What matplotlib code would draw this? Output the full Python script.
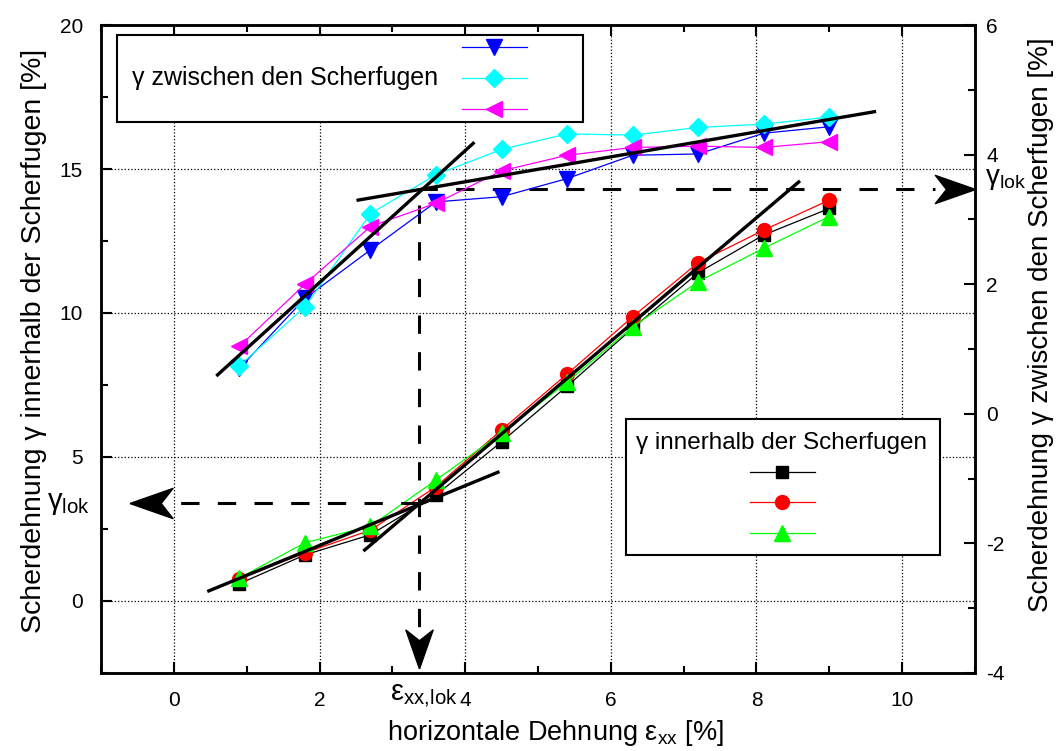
import numpy as np
import matplotlib
matplotlib.use("Agg")
import matplotlib.pyplot as plt
from matplotlib.lines import Line2D
from matplotlib.patches import Rectangle
from matplotlib.ticker import MultipleLocator

plt.rcParams['font.family'] = ['Liberation Sans', 'DejaVu Sans']
plt.rcParams['mathtext.fontset'] = 'custom'
plt.rcParams['mathtext.rm'] = 'Liberation Sans'
plt.rcParams['mathtext.it'] = 'Liberation Sans'
plt.rcParams['axes.unicode_minus'] = False

# horizontale Dehnung [%]
eps = [0.9, 1.8, 2.7, 3.6, 4.5, 5.4, 6.3, 7.2, 8.1, 9.0]

# gamma innerhalb der Scherfugen (linke Achse)
inn_black = [0.6, 1.6, 2.3, 3.68, 5.53, 7.46, 9.47, 11.4, 12.71, 13.63]
inn_red = [0.78, 1.67, 2.46, 3.97, 5.94, 7.88, 9.87, 11.75, 12.88, 13.92]
inn_green = [0.8, 2.02, 2.6, 4.2, 5.83, 7.6, 9.52, 11.09, 12.25, 13.35]

# gamma zwischen den Scherfugen (rechte Achse)
zw_blue = [0.7, 1.78, 2.53, 3.27, 3.35, 3.63, 3.99, 4.01, 4.33, 4.43]
zw_cyan = [0.74, 1.65, 3.09, 3.69, 4.08, 4.32, 4.30, 4.42, 4.47, 4.58]
zw_magenta = [1.04, 2.0, 2.89, 3.25, 3.75, 3.99, 4.11, 4.13, 4.11, 4.2]

# Tangenten (linke Achse)
tang_x = [[0.60, 4.11], [2.53, 9.62], [0.48, 4.45], [2.62, 8.58]]
tang_y = [[7.85, 15.89], [13.92, 16.99], [0.35, 4.47], [1.77, 14.55]]

eps_lok = 3.36
gam_lok_in = 3.41
gam_lok_zw = 14.30

fig = plt.figure(figsize=(10.6, 7.51), dpi=100)
ax = fig.add_axes([0.0953, 0.1039, 0.8245, 0.8628])
ax2 = ax.twinx()

ax.set_xlim(-1, 11)
ax.set_ylim(-2.5, 20)
ax2.set_ylim(-4, 6)

ax.xaxis.set_major_locator(MultipleLocator(2))
ax.xaxis.set_minor_locator(MultipleLocator(1))
ax.yaxis.set_major_locator(MultipleLocator(5))
ax.yaxis.set_minor_locator(MultipleLocator(2.5))
ax2.yaxis.set_major_locator(MultipleLocator(2))
ax2.yaxis.set_minor_locator(MultipleLocator(1))

ax.tick_params(which='both', direction='in', top=True, labelsize=15, width=1.5)
ax.tick_params(which='major', length=8)
ax.tick_params(which='minor', length=5)
ax.tick_params(axis='y', pad=13)
ax.tick_params(axis='x', pad=13)
ax2.tick_params(which='both', direction='in', labelsize=15, width=1.5, pad=8)
ax2.tick_params(which='major', length=8)
ax2.tick_params(which='minor', length=5)
for a in (ax, ax2):
    for s in a.spines.values():
        s.set_linewidth(1.8)

ax.grid(True, which='major', linestyle=':', color='black', linewidth=0.9)

lw = 0.9
ax.plot(eps, inn_black, color='black', lw=lw, marker='s', ms=9, zorder=3)
ax.plot(eps, inn_red, color='red', lw=lw, marker='o', ms=10, zorder=3)
ax.plot(eps, inn_green, color='#00ff00', lw=lw, marker='^', ms=11, zorder=3)

ax2.plot(eps, zw_blue, color='blue', lw=lw, marker='v', ms=12, zorder=3)
ax2.plot(eps, zw_cyan, color='cyan', lw=lw, marker='D', ms=9, zorder=3)
ax2.plot(eps, zw_magenta, color='magenta', lw=lw, marker='<', ms=12, zorder=3)

for tx, ty in zip(tang_x, tang_y):
    ax2.plot(tx, [(v + 2.5) * 10 / 22.5 - 4 for v in ty], color='black', lw=2.4, zorder=4)

# gestrichelte Hilfslinien mit Pfeilen
dash = dict(color='black', lw=2.2, dashes=(6, 6), zorder=4)
ax.plot([eps_lok, 10.45], [gam_lok_zw, gam_lok_zw], **dash)
ax.plot([eps_lok, eps_lok], [13.75, -1.18], **dash)
ax.plot([eps_lok, 0.0], [gam_lok_in, gam_lok_in], **dash)

arr_r = [(1, 0), (-1, 0.7), (-0.45, 0), (-1, -0.7), (1, 0)]
arr_l = [(-x, y) for x, y in arr_r]
arr_d = [(y, -x) for x, y in arr_r]
ax.plot([10.72], [gam_lok_zw], marker=arr_r, ms=29, color='black', clip_on=False, zorder=5)
ax.plot([-0.31], [gam_lok_in], marker=arr_l, ms=31, color='black', clip_on=False, zorder=5)
ax.plot([eps_lok], [-1.67], marker=arr_d, ms=28, color='black', clip_on=False, zorder=5)

ax.text(-0.0126, 0.262, r'$\mathregular{\gamma_{lok}}$', transform=ax.transAxes,
        fontsize=21, ha='right', va='center')
ax.text(1.011, 0.763, r'$\mathregular{\gamma_{lok}}$', transform=ax.transAxes,
        fontsize=20, ha='left', va='center')
ax.text(3.43, -0.014, r'$\mathregular{\varepsilon_{xx,\!lok}}$', transform=ax.get_xaxis_transform(),
        fontsize=21, ha='center', va='top')

ax.set_xlabel(r'horizontale Dehnung $\mathregular{\varepsilon_{xx}}$ [%]', fontsize=19.5, labelpad=6)
ax.xaxis.label.set_x(0.52)
ax.set_ylabel('Scherdehnung γ innerhalb der Scherfugen [%]', fontsize=20.5, labelpad=9)
ax.yaxis.label.set_y(0.512)
ax2.set_ylabel('Scherdehnung γ zwischen den Scherfugen [%]', fontsize=20, labelpad=17)
ax2.yaxis.label.set_y(0.537)

# Legenden, von Hand gezeichnet
ax.add_patch(Rectangle((0.0183, 0.8503), 0.5332, 0.1343, transform=ax.transAxes,
                       facecolor='white', edgecolor='black', lw=1.5, zorder=6))
ax.text(0.0355, 0.918, 'γ zwischen den Scherfugen', transform=ax.transAxes,
        fontsize=18, va='center', zorder=7)
for yy, c, m, s in [(0.966, 'blue', 'v', 12), (0.918, 'cyan', 'D', 9), (0.8704, 'magenta', '<', 12)]:
    ax.add_line(Line2D([0.413, 0.4874], [yy, yy], transform=ax.transAxes, color=c, lw=lw, zorder=7))
    ax.add_line(Line2D([0.4497], [yy], transform=ax.transAxes, color=c, marker=m, ms=s, zorder=7))

ax.add_patch(Rectangle((0.6007, 0.1821), 0.3593, 0.2094, transform=ax.transAxes,
                       facecolor='white', edgecolor='black', lw=1.5, zorder=6))
ax.text(0.612, 0.3554, 'γ innerhalb der Scherfugen', transform=ax.transAxes,
        fontsize=17.5, va='center', zorder=7)
for yy, c, m, s in [(0.3106, 'black', 's', 9), (0.2634, 'red', 'o', 10), (0.2156, '#00ff00', '^', 11)]:
    ax.add_line(Line2D([0.7426, 0.8169], [yy, yy], transform=ax.transAxes, color=c, lw=lw, zorder=7))
    ax.add_line(Line2D([0.779], [yy], transform=ax.transAxes, color=c, marker=m, ms=s, zorder=7))

fig.savefig('out.png', dpi=100)
